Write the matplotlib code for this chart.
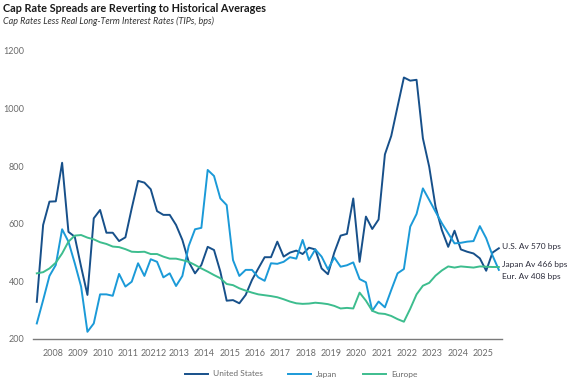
import matplotlib
matplotlib.use("Agg")
import matplotlib.pyplot as plt
import numpy as np

plt.rcParams['font.family'] = ['Lato', 'DejaVu Sans']

# Quarterly observations, Q4 2007 .. Q1 2026 (74 points)
us = [329, 596, 677, 678, 812, 572, 555, 451, 353, 619, 648, 569, 569, 540, 553, 654, 749, 743, 720, 644,
      631, 631, 596, 544, 468, 428, 457, 520, 509, 434, 333, 335, 324, 353, 405, 445, 484, 484, 538, 486,
      500, 507, 495, 517, 511, 445, 425, 500, 559, 565, 688, 468, 625, 582, 615, 841, 905, 1007, 1108, 1097,
      1100, 897, 798, 659, 578, 520, 576, 511, 503, 497, 480, 437, 500, 515]
japan = [254, 335, 419, 457, 581, 538, 463, 382, 225, 254, 355, 355, 350, 426, 382, 399, 463, 419, 477, 468,
         414, 428, 384, 419, 523, 581, 586, 787, 766, 688, 665, 474, 419, 440, 440, 414, 402, 463, 461, 468,
         484, 479, 544, 474, 511, 486, 442, 483, 451, 456, 466, 408, 397, 298, 330, 310, 370, 428, 443, 590,
         634, 723, 683, 642, 602, 567, 532, 534, 538, 540, 592, 550, 490, 440]
europe = [428, 432, 445, 465, 497, 538, 559, 561, 552, 546, 536, 530, 521, 519, 512, 503, 502, 503, 495, 495,
          486, 479, 479, 474, 468, 457, 445, 434, 422, 411, 391, 387, 376, 368, 361, 355, 352, 349, 345, 338,
          330, 324, 322, 323, 326, 324, 321, 315, 306, 308, 306, 361, 333, 298, 289, 287, 280, 269, 260, 305,
          355, 385, 395, 420, 438, 452, 448, 452, 450, 448, 452, 451, 450, 450]

year_labels = ['2008', '2009', '2010', '2011', '20212', '2013', '2014', '2015', '2016', '2017', '2018',
               '2019', '2020', '2021', '2022', '2023', '2024', '2025']
y_ticks = [200, 400, 600, 800, 1000, 1200]
series_names = ['United States', 'Japan', 'Europe']
end_labels = ['U.S. Av 570 bps', 'Japan Av 466 bps', 'Eur. Av 408 bps']

c_us = '#17508a'
c_jp = '#1b9ad8'
c_eu = '#3dbd8e'
txt_gray = '#6b6b6b'

fig = plt.figure(figsize=(5.76, 3.84), dpi=100)
ax = fig.add_axes([33/576, (384-339)/384, (502-33)/576, (339-51)/384])

x = np.arange(len(us))
ax.plot(x, us, color=c_us, lw=1.4, label=series_names[0])
ax.plot(x, japan, color=c_jp, lw=1.4, label=series_names[1])
ax.plot(x, europe, color=c_eu, lw=1.4, label=series_names[2])

ax.set_xlim(-0.6, 73.5)
ax.set_ylim(200, 1200)
ax.set_yticks(y_ticks)
ax.set_yticklabels([str(v) for v in y_ticks])
ax.set_xticks([2.5 + 4*k for k in range(len(year_labels))])
ax.set_xticklabels(year_labels)
ax.tick_params(axis='both', length=0, labelsize=6.5, labelcolor=txt_gray)
ax.tick_params(axis='y', pad=6)
ax.tick_params(axis='x', pad=7)
for s in ['top', 'right', 'left']:
    ax.spines[s].set_visible(False)
ax.spines['bottom'].set_color('#7a7a7a')
ax.spines['bottom'].set_linewidth(1.0)

# end labels
for lbl, ypix in zip(end_labels, [247, 264, 277]):
    fig.text(502/576, 1 - ypix/384, lbl, fontsize=6, color='#2b2b3a', va='center', ha='left')

fig.text(3/576, 1 - 8/384, 'Cap Rate Spreads are Reverting to Historical Averages',
         fontsize=7.8, fontweight='bold', color='#1a1a1a', va='center', ha='left')
fig.text(3/576, 1 - 21/384, 'Cap Rates Less Real Long-Term Interest Rates (TIPs, bps)',
         fontsize=6.5, style='italic', color='#333333', va='center', ha='left')

leg = fig.legend(loc='center', bbox_to_anchor=(301/576, 1 - 374/384), ncol=3, frameon=False,
                 fontsize=6, handlelength=2.8, columnspacing=3.0, handletextpad=0.6)
for t in leg.get_texts():
    t.set_color(txt_gray)

fig.savefig('out.png', dpi=100)
